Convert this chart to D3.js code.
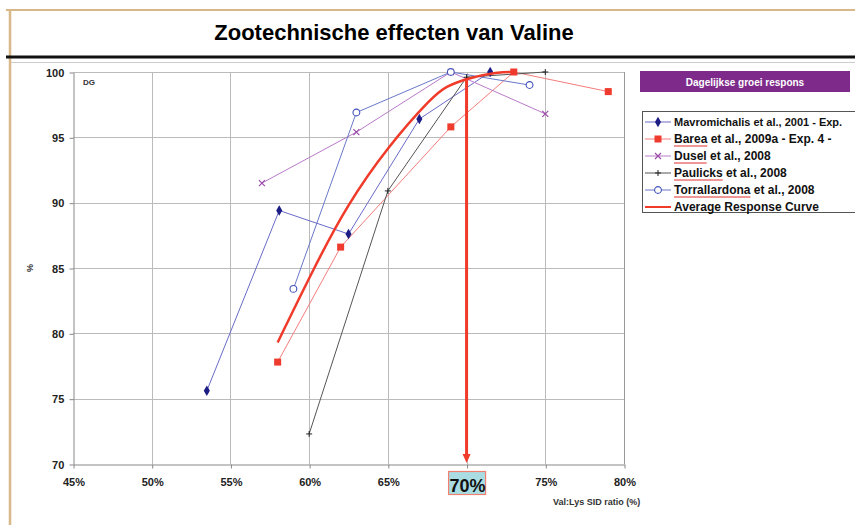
<!DOCTYPE html>
<html lang="nl">
<head>
<meta charset="UTF-8">
<title>Zootechnische effecten van Valine</title>
<script src="https://cdn.jsdelivr.net/npm/d3@7"></script>
<style>
    body { margin: 0; padding: 0; background: #fff; font-family: "Liberation Sans", Arial, sans-serif; }
    svg { display: block; }
</style>
</head>
<body>
<div id="chart"></div>
<script>
// data (x = Val:Lys SID ratio in %, y = %)
const mavromichalis = [[53.5, 75.6], [58.1, 89.4], [62.5, 87.6], [67.0, 96.4], [71.5, 100]];
const barea = [[58.0, 77.8], [62.0, 86.6], [69.0, 95.8], [73.0, 100], [79.0, 98.5]];
const dusel = [[57.0, 91.5], [63.0, 95.4], [69.0, 100], [75.0, 96.8]];
const paulicks = [[60.0, 72.3], [65.0, 90.9], [70.0, 99.6], [75.0, 100]];
const torrallardona = [[59.0, 83.4], [63.0, 96.9], [69.0, 100], [74.0, 99.0]];
const averageCurve = [[58.0, 79.3], [60.3, 85.0], [62.4, 89.8], [65.0, 94.3], [67.9, 98.2], [68.7, 98.9], [70.0, 99.5], [72.0, 100], [73.0, 100]];

const xTicks = [45, 50, 55, 60, 65, 70, 75, 80];
const yTicks = [70, 75, 80, 85, 90, 95, 100];
const optimum = 70;

const seriesNames = ["Mavromichalis et al., 2001 - Exp.", "Barea et al., 2009a - Exp. 4 -", "Dusel et al., 2008",
    "Paulicks et al., 2008", "Torrallardona et al., 2008", "Average Response Curve"];

const W = 855, H = 528;
const svg = d3.select("#chart").append("svg").attr("width", W).attr("height", H);

// slide frame
svg.append("line").attr("x1", 6).attr("x2", W).attr("y1", 10).attr("y2", 10)
    .attr("stroke", "#d8b888").attr("stroke-width", 2);
svg.append("line").attr("x1", 10).attr("x2", 10).attr("y1", 10).attr("y2", 525)
    .attr("stroke", "#d8b888").attr("stroke-width", 2.5);
svg.append("text").attr("x", 394).attr("y", 40).attr("text-anchor", "middle")
    .attr("font-size", 22).attr("font-weight", "bold").attr("fill", "#000")
    .text("Zootechnische effecten van Valine");
svg.append("line").attr("x1", 6).attr("x2", W).attr("y1", 57).attr("y2", 57)
    .attr("stroke", "#111").attr("stroke-width", 3);
svg.append("line").attr("x1", 11).attr("x2", W).attr("y1", 62.5).attr("y2", 62.5)
    .attr("stroke", "#ccc").attr("stroke-width", 1);

const x = d3.scaleLinear().domain([45, 80]).range([73, 624]);
const y = d3.scaleLinear().domain([70, 100]).range([464, 72]);

// grid
const grid = svg.append("g");
grid.selectAll(".gx").data(xTicks.slice(1)).join("line")
    .attr("x1", d => Math.round(x(d)) + 0.5).attr("x2", d => Math.round(x(d)) + 0.5)
    .attr("y1", y(100)).attr("y2", y(70))
    .attr("stroke", d => d === 80 ? "#999" : "#bbb");
grid.selectAll(".gy").data(yTicks.slice(1)).join("line")
    .attr("x1", x(45)).attr("x2", x(80))
    .attr("y1", d => Math.round(y(d)) + 0.5).attr("y2", d => Math.round(y(d)) + 0.5)
    .attr("stroke", "#bbb");

// axes
const xAxis = svg.append("g").attr("transform", `translate(0.5,${Math.round(y(70)) + 0.5})`)
    .call(d3.axisBottom(x).tickValues(xTicks).tickSize(4).tickSizeOuter(0).tickFormat(d => d + "%"));
const yAxis = svg.append("g").attr("transform", `translate(${Math.round(x(45)) + 0.5},0.5)`)
    .call(d3.axisLeft(y).tickValues(yTicks).tickSize(4).tickSizeOuter(0));
[xAxis, yAxis].forEach(a => {
    a.select(".domain").attr("stroke", "#888");
    a.selectAll(".tick line").attr("stroke", "#888");
    a.selectAll("text").attr("font-family", "'Liberation Sans', Arial, sans-serif")
        .attr("font-size", 11).attr("font-weight", "bold").attr("fill", "#222");
});
xAxis.selectAll("text").attr("dy", "1.3em");
yAxis.selectAll("text").attr("dx", "-0.2em");

// highlighted optimum tick label
const optTick = xAxis.selectAll(".tick").filter(d => d === optimum);
optTick.select("text").attr("font-size", 18).attr("dy", "1.15em").attr("fill", "#111");
optTick.insert("rect", "text").attr("x", -19).attr("y", 7).attr("width", 37).attr("height", 23)
    .attr("fill", "#a9dde3").attr("stroke", "#f08070").attr("stroke-width", 1.2);

svg.append("text").attr("x", 553).attr("y", 505).attr("font-size", 9).attr("font-weight", "bold")
    .attr("fill", "#333").text("Val:Lys SID ratio (%)");
svg.append("text").attr("transform", "translate(33,268) rotate(-90)").attr("text-anchor", "middle")
    .attr("font-size", 9).attr("font-weight", "bold").attr("fill", "#333").text("%");
svg.append("text").attr("x", 83).attr("y", 85).attr("font-size", 8).attr("font-weight", "bold")
    .attr("fill", "#333").text("DG");

// series
const line = d3.line().x(d => x(d[0])).y(d => y(d[1]));
const styles = [
    { data: mavromichalis, stroke: "#6a6ac8", width: 1, marker: "diamond", mcol: "#1c1c85" },
    { data: barea, stroke: "#f47c7c", width: 1, marker: "square", mcol: "#ef3a2e" },
    { data: dusel, stroke: "#b87ac8", width: 1, marker: "x", mcol: "#9a4aa8" },
    { data: paulicks, stroke: "#555", width: 1, marker: "plus", mcol: "#222" },
    { data: torrallardona, stroke: "#6a78c8", width: 1, marker: "circle", mcol: "#4050b8" }
];

function drawMarker(g, type, col) {
    if (type === "diamond") {
        g.append("path").attr("d", d3.symbol(d3.symbolDiamond, 32)()).attr("fill", col);
    } else if (type === "square") {
        g.append("rect").attr("x", -3.5).attr("y", -3.5).attr("width", 7).attr("height", 7).attr("fill", col);
    } else if (type === "x") {
        g.append("path").attr("d", "M-3,-3L3,3M-3,3L3,-3").attr("stroke", col).attr("stroke-width", 1.2);
    } else if (type === "plus") {
        g.append("path").attr("d", "M-3,0L3,0M0,-3L0,3").attr("stroke", col).attr("stroke-width", 1);
    } else if (type === "circle") {
        g.append("circle").attr("r", 3.4).attr("fill", "#fff").attr("stroke", col).attr("stroke-width", 1.1);
    }
}

styles.forEach(s => {
    svg.append("path").datum(s.data).attr("d", line).attr("fill", "none")
        .attr("stroke", s.stroke).attr("stroke-width", s.width);
});
styles.forEach(s => {
    s.data.forEach(p => {
        const g = svg.append("g").attr("transform", `translate(${x(p[0])},${y(p[1])})`);
        drawMarker(g, s.marker, s.mcol);
    });
});

svg.append("path").datum(averageCurve)
    .attr("d", d3.line().x(d => x(d[0])).y(d => y(d[1])).curve(d3.curveBasis))
    .attr("fill", "none").attr("stroke", "#f03a2a").attr("stroke-width", 2.5);

// arrow at the optimum
svg.append("line").attr("x1", x(optimum)).attr("x2", x(optimum)).attr("y1", y(99.5)).attr("y2", y(70) - 8)
    .attr("stroke", "#f03a2a").attr("stroke-width", 3);
svg.append("path")
    .attr("d", `M${x(optimum) - 4},${y(70) - 10}L${x(optimum) + 4},${y(70) - 10}L${x(optimum)},${y(70) - 1}Z`)
    .attr("fill", "#f03a2a");

// legend
svg.append("rect").attr("x", 640).attr("y", 71).attr("width", 210).attr("height", 21).attr("fill", "#7d2a8a");
svg.append("text").attr("x", 745).attr("y", 85.5).attr("text-anchor", "middle").attr("font-size", 10)
    .attr("font-weight", "bold").attr("fill", "#fff").text("Dagelijkse groei respons");

svg.append("rect").attr("x", 642.5).attr("y", 111.5).attr("width", 230).attr("height", 101)
    .attr("fill", "#fff").attr("stroke", "#555");
const leg = svg.append("g");
seriesNames.forEach((name, i) => {
    const ly = 122 + i * 17;
    const s = styles[i];
    const g = leg.append("g").attr("transform", `translate(0,${ly})`);
    g.append("line").attr("x1", 645).attr("x2", 671).attr("y1", 0).attr("y2", 0)
        .attr("stroke", s ? s.stroke : "#f03a2a").attr("stroke-width", s ? 1 : 2);
    if (s) drawMarker(g.append("g").attr("transform", "translate(658,0)"), s.marker, s.mcol);
    g.append("text").attr("x", 674).attr("y", 4).attr("font-size", i === 0 ? 11 : 12).attr("font-weight", "bold")
        .attr("fill", "#111").text(name);
    // red spell-check underline under the author name
    if (i >= 1 && i <= 4) {
        const word = name.split(" ")[0];
        const tmp = g.append("text").attr("font-size", 12).attr("font-weight", "bold").text(word);
        const w = tmp.node().getComputedTextLength();
        tmp.remove();
        g.append("line").attr("x1", 674).attr("x2", 674 + w).attr("y1", 7).attr("y2", 7)
            .attr("stroke", "#e03030").attr("stroke-width", 1);
    }
});
</script>
</body>
</html>
